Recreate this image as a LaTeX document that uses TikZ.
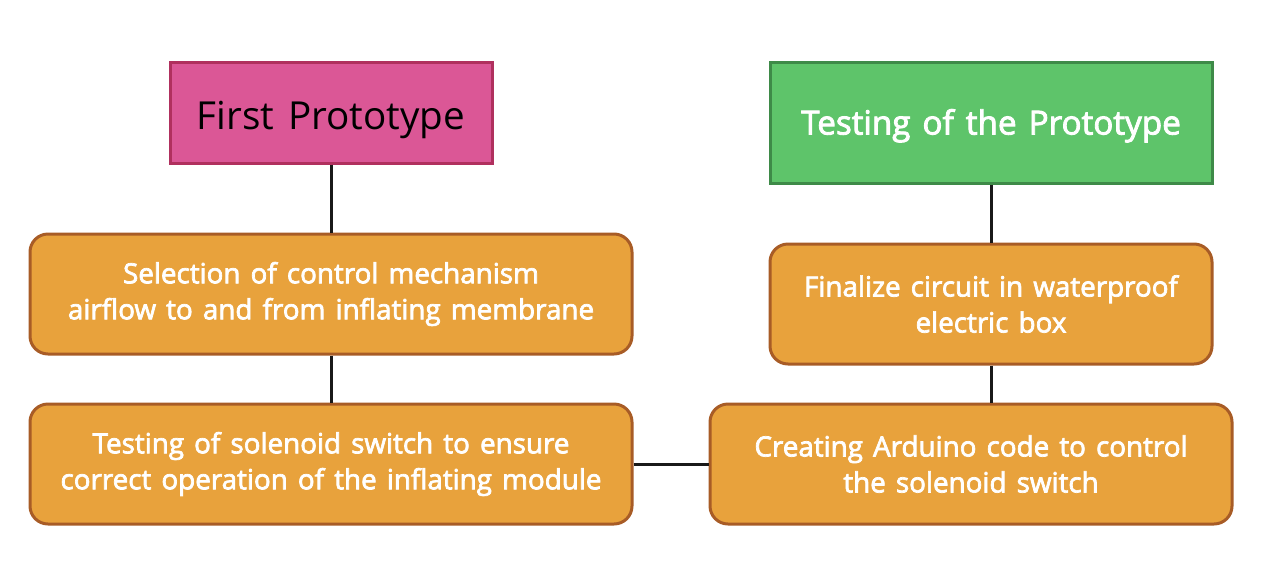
\documentclass[tikz,border=0pt]{standalone}
\usepackage{fontspec}
\setmainfont{Open Sans}[WordSpace=1.4]
\newfontfamily\stepfont{Open Sans}[WordSpace=1.4, FakeBold=2.6]
\definecolor{pinkfill}{HTML}{DB5796}
\definecolor{pinkline}{HTML}{B0305E}
\definecolor{greenfill}{HTML}{5EC46A}
\definecolor{greenline}{HTML}{3E8A48}
\definecolor{stepfill}{HTML}{E8A23C}
\definecolor{stepline}{HTML}{A85C26}
\tikzset{
  headbox/.style={draw, line width=1.5pt, align=center, inner sep=0pt, text depth=0pt},
  stepbox/.style={draw=stepline, fill=stepfill, line width=1.5pt, rounded corners=9pt,
    align=center, inner sep=0pt, text=white, font=\stepfont\fontsize{13.9}{18}\selectfont,
    minimum height=60pt},
  link/.style={line width=1.5pt, black!90}
}
\begin{document}
\begin{tikzpicture}[x=0.5pt,y=-0.5pt]
\useasboundingbox (0,0) rectangle (1272,568);

\node[headbox, draw=pinkline, fill=pinkfill, minimum width=161pt, minimum height=50.5pt,
  text height=17pt, font=\fontsize{19.3}{22}\selectfont] (first) at (331,112.5) {First Prototype};
\node[headbox, draw=greenline, fill=greenfill, text=white, minimum width=221pt, minimum height=60.5pt,
  text height=12pt, font=\stepfont\fontsize{16.6}{20}\selectfont] (test) at (991,122.5) {Testing of the Prototype};

\node[stepbox, minimum width=301pt] (select) at (331,294)
  {Selection of control mechanism\\airflow to and from inflating membrane};
\node[stepbox, minimum width=301pt] (solenoid) at (331,464)
  {Testing of solenoid switch to ensure\\correct operation of the inflating module};
\node[stepbox, minimum width=221pt] (final) at (991,304)
  {Finalize circuit in waterproof\\electric box};
\node[stepbox, minimum width=261pt] (arduino) at (971,464)
  {Creating Arduino code to control\\the solenoid switch};

\draw[link] (first) -- (select);
\draw[link] (select) -- (solenoid);
\draw[link] (solenoid) -- (arduino);
\draw[link] (test) -- (final);
\draw[link] (final.south) -- (final.south |- arduino.north);
\end{tikzpicture}
\end{document}
